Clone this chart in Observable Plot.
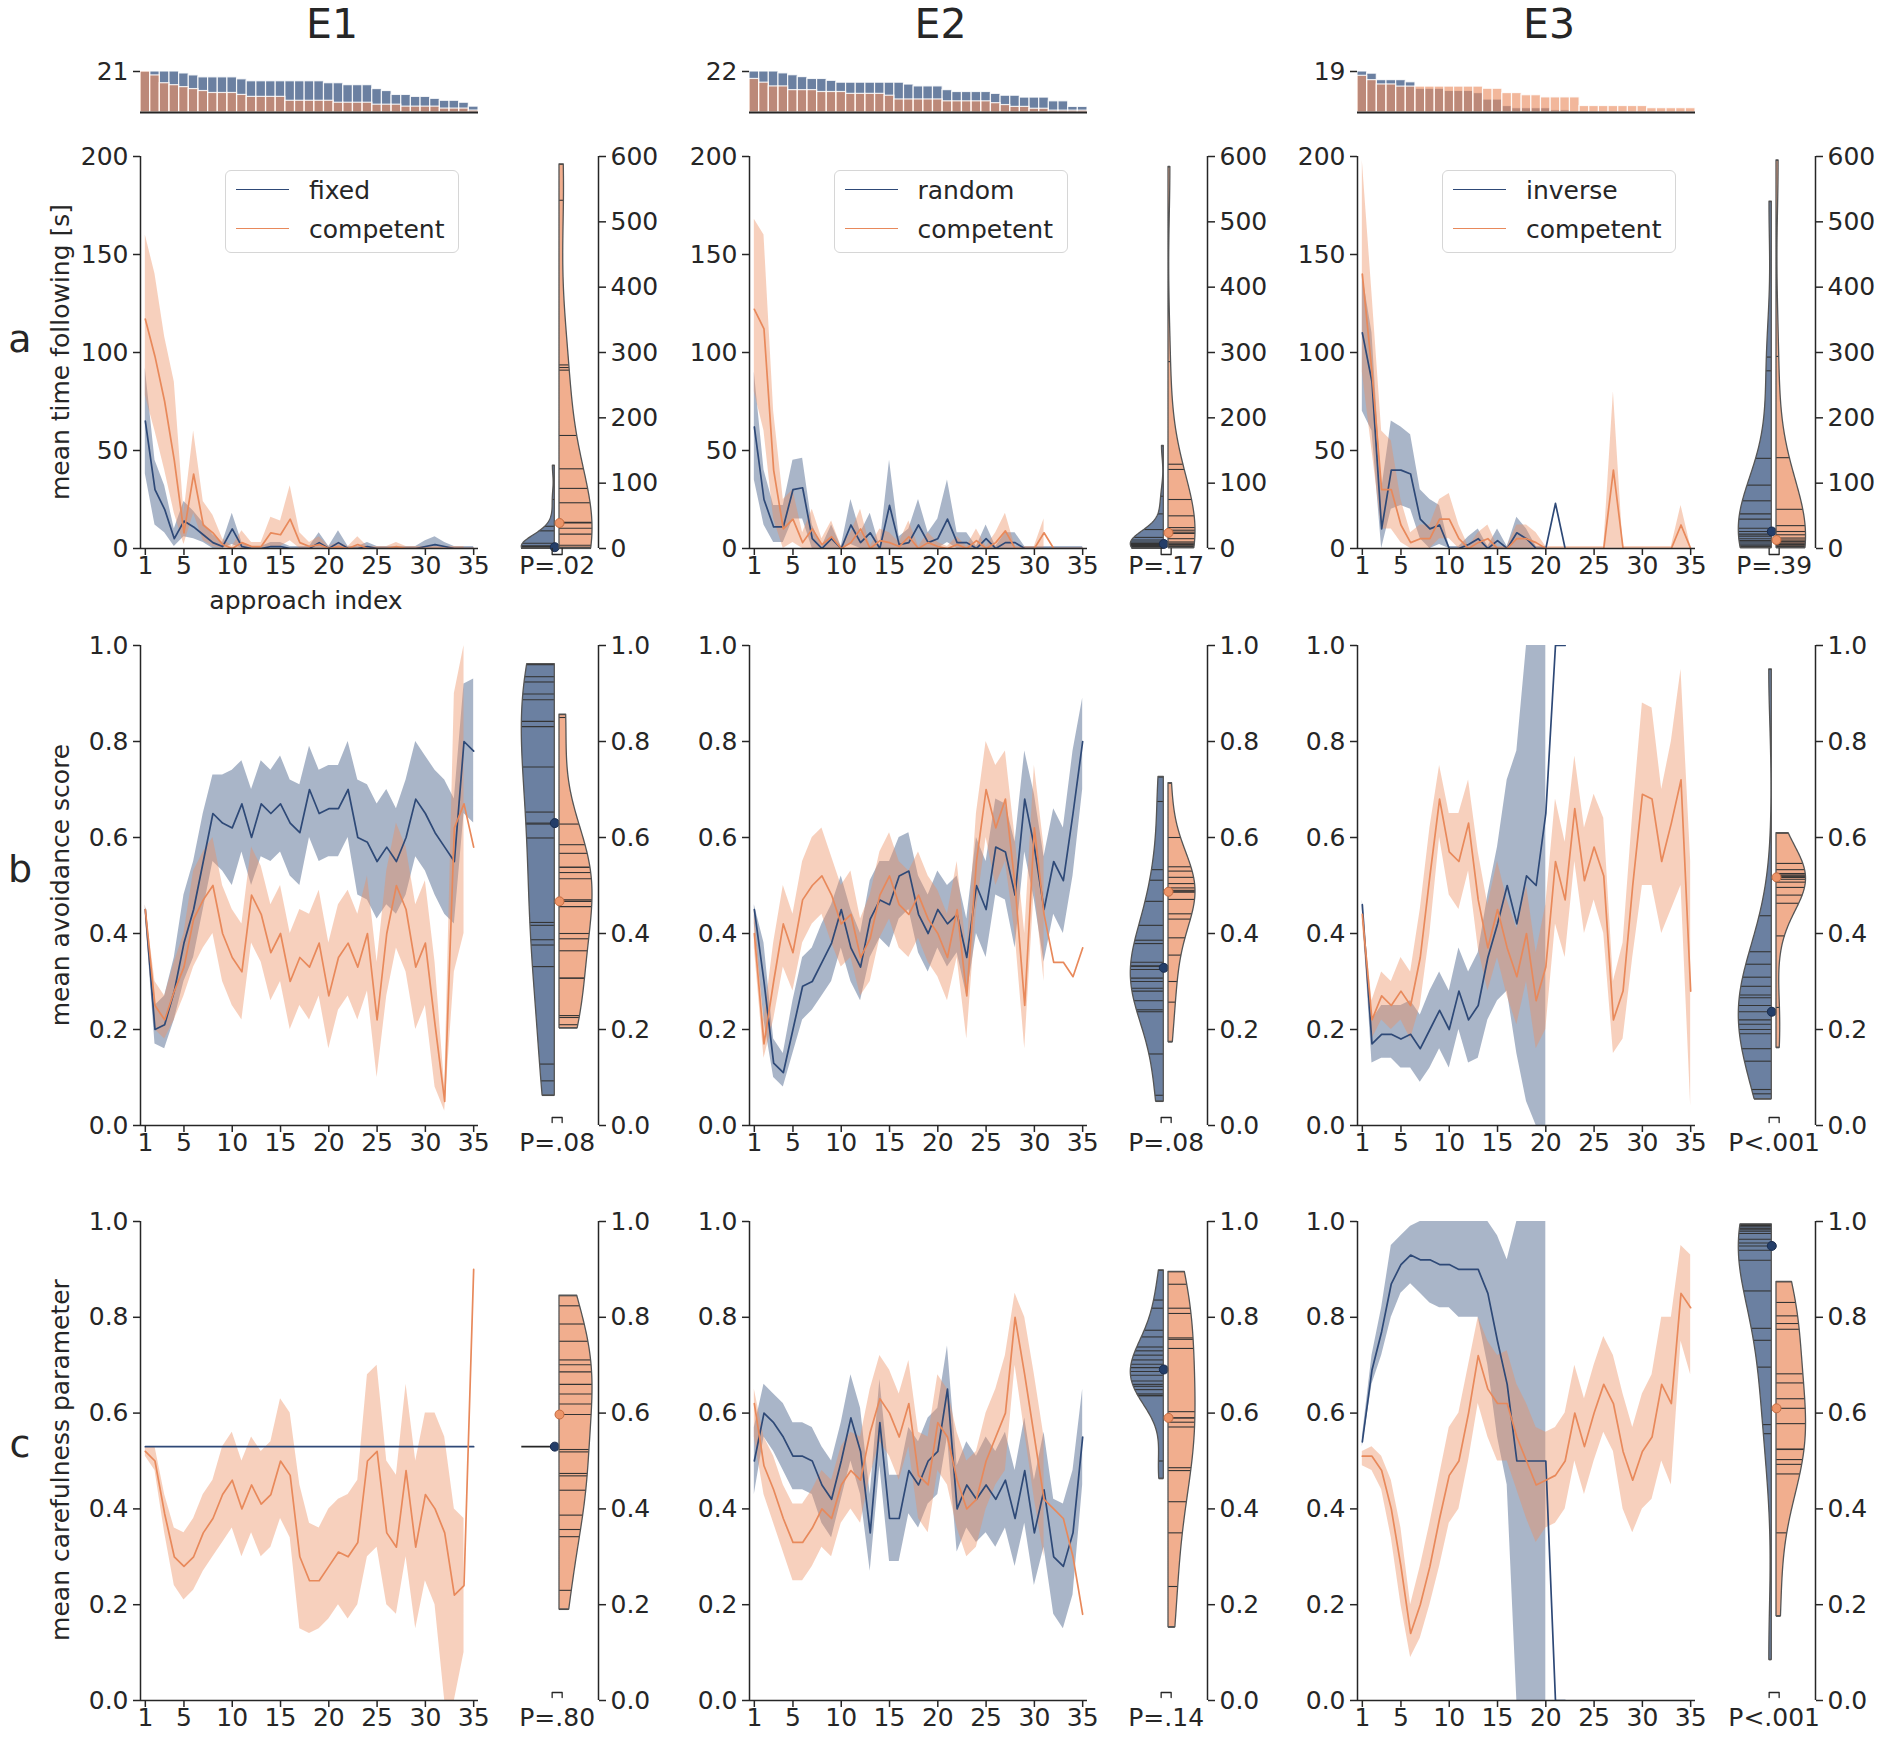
<!DOCTYPE html>
<html><head><meta charset="utf-8">
<script src="https://cdn.jsdelivr.net/npm/d3@7"></script>
<script src="https://cdn.jsdelivr.net/npm/@observablehq/plot@0.6"></script>
<style>
html,body{margin:0;padding:0;background:#fff;}
#root{position:relative;width:1880px;height:1742px;overflow:hidden;font-family:"DejaVu Sans",sans-serif;color:#262626;}
.t{position:absolute;white-space:nowrap;line-height:1;}
</style></head><body><div id="root"></div>
<script>
// ---------------- DATA ----------------
const approach = d3.range(1, 36);
const experiments = ["E1", "E2", "E3"];
const blueNames = ["fixed", "random", "inverse"];
const orangeName = "competent";
const rowLetters = ["a", "b", "c"];
const rowLabels = ["mean time following [s]", "mean avoidance score", "mean carefulness parameter"];
const xTicks = [1, 5, 10, 15, 20, 25, 30, 35];
const yTicksA = [0, 50, 100, 150, 200];
const yTicksViolinA = [0, 100, 200, 300, 400, 500, 600];
const yTicksBC = [0, 0.2, 0.4, 0.6, 0.8, 1.0];
const pLabels = [["P=.02", "P=.08", "P=.80"], ["P=.17", "P=.08", "P=.14"], ["P=.39", "P<.001", "P<.001"]];

// counts of participants per approach index (top histograms)
const E1_count_blue = [21,21,21,21,20,19,18,18,18,18,17,16,16,16,16,16,16,16,16,15,15,14,14,14,12,11,9,9,8,8,7,6,6,5,3];
const E1_count_orange = [21,19,15,14,13,12,11,10,10,10,9,8,8,8,8,6,6,6,6,6,5,5,5,5,4,4,4,3,3,3,3,2,2,2,1];
const E2_count_blue = [22,22,22,21,20,19,18,18,17,16,16,16,16,16,16,16,15,14,14,14,12,11,11,11,11,10,9,9,8,8,8,6,6,3,3];
const E2_count_orange = [18,16,14,14,12,12,12,11,11,11,10,10,10,10,9,7,7,7,7,7,6,6,6,6,6,5,4,3,3,2,2,1,1,1,1];
const E3_count_blue = [19,18,15,15,15,14,11,11,11,10,10,10,9,6,6,3,2,2,2,2,1,1,0,0,0,0,0,0,0,0,0,0,0,0,0];
const E3_count_orange = [17,15,13,13,12,12,12,12,12,12,12,12,12,11,11,9,9,8,8,7,7,7,7,3,3,3,3,3,3,3,2,2,2,2,2];

// row a: mean time following [s]
const E1a_blue_mean = [65,30,20,5,14,11,7,3,1,10,1,0,0,1,1,0,0,0,3,0,3,0,0,1,0,0,0,0,0,1,2,1,0,0,0];
const E1a_blue_lo = [38,12,8,1,6,5,3,0,0,2,0,0,0,0,0,0,0,0,0,0,0,0,0,0,0,0,0,0,0,0,0,0,0,0,0];
const E1a_blue_hi = [92,45,32,10,24,19,13,7,3,18,3,1,1,3,3,1,1,1,8,1,9,1,1,3,1,1,1,1,1,4,6,3,1,1,1];
const E1a_orange_mean = [117,98,75,45,8,38,12,8,2,0,3,1,1,8,7,15,3,1,2,0,1,0,2,0,0,0,1,0,0,0,0,0,0,0,0];
const E1a_orange_lo = [78,60,40,18,2,18,4,1,0,0,0,0,0,1,1,4,0,0,0,0,0,0,0,0,0,0,0,0,0,0,0,0,0,0,null];
const E1a_orange_hi = [160,140,108,85,18,60,24,17,5,1,9,3,3,16,14,32,8,3,6,1,3,1,6,1,1,1,3,1,1,1,1,1,1,1,null];

const E2a_blue_mean = [62,25,11,11,30,31,5,0,5,0,12,3,8,0,22,2,3,12,3,5,15,3,3,0,5,0,3,3,0,0,0,0,0,0,0];
const E2a_blue_lo = [35,12,3,3,15,15,0,0,0,0,2,0,0,0,0,0,0,0,0,0,3,0,0,0,0,0,0,0,0,0,0,0,0,0,0];
const E2a_blue_hi = [90,40,22,22,45,46,12,1,12,1,25,8,18,1,45,6,10,25,8,15,35,8,8,1,12,1,8,8,1,1,1,1,1,1,1];
const E2a_orange_mean = [122,112,40,10,15,3,10,2,6,0,3,10,0,4,3,1,6,0,3,1,0,2,0,4,0,3,9,0,0,0,8,0,0,0,0];
const E2a_orange_lo = [80,60,15,0,3,0,0,0,0,0,0,0,0,0,0,0,0,0,0,0,0,0,0,0,0,0,0,0,0,0,0,null,null,null,null];
const E2a_orange_hi = [168,160,70,25,30,8,20,5,14,1,8,20,1,10,8,3,14,1,8,3,1,6,1,10,1,8,18,1,1,1,15,null,null,null,null];

const E3a_blue_mean = [110,85,10,40,40,38,15,10,12,0,0,2,5,0,4,0,8,5,0,0,23,0,null,null,null,null,null,null,null,null,null,null,null,null,null];
const E3a_blue_lo = [70,60,0,20,22,20,5,0,2,0,0,0,0,0,0,0,0,0,0,0,null,null,null,null,null,null,null,null,null,null,null,null,null,null,null];
const E3a_blue_hi = [140,110,30,65,62,58,30,25,22,1,1,6,10,1,10,1,16,10,1,1,null,null,null,null,null,null,null,null,null,null,null,null,null,null,null];
const E3a_orange_mean = [140,90,30,30,12,3,5,5,15,15,5,0,3,5,0,0,5,5,3,0,0,0,0,0,0,0,40,0,0,0,0,0,0,12,0];
const E3a_orange_lo = [90,50,10,10,3,0,0,0,5,5,0,0,0,0,0,0,0,0,0,0,0,0,0,0,0,0,0,0,0,0,0,0,0,0,0];
const E3a_orange_hi = [198,130,60,55,25,8,12,12,25,28,12,1,8,12,1,1,12,12,8,1,1,1,1,1,1,1,80,1,1,1,1,1,1,22,1];

// row b: mean avoidance score
const E1b_blue_mean = [0.45,0.2,0.21,0.28,0.38,0.45,0.55,0.65,0.63,0.62,0.67,0.6,0.67,0.65,0.67,0.63,0.61,0.7,0.65,0.66,0.66,0.7,0.6,0.59,0.55,0.58,0.55,0.6,0.68,0.65,0.61,0.58,0.55,0.8,0.78];
const E1b_blue_lo = [0.44,0.17,0.16,0.22,0.3,0.35,0.45,0.55,0.53,0.5,0.57,0.5,0.56,0.55,0.57,0.52,0.5,0.6,0.55,0.56,0.56,0.6,0.48,0.47,0.43,0.46,0.44,0.48,0.56,0.53,0.48,0.44,0.42,0.65,0.63];
const E1b_blue_hi = [0.46,0.25,0.27,0.35,0.48,0.55,0.65,0.73,0.73,0.74,0.76,0.7,0.76,0.74,0.77,0.72,0.71,0.79,0.74,0.75,0.75,0.8,0.72,0.71,0.67,0.7,0.66,0.72,0.8,0.77,0.74,0.72,0.68,0.92,0.93];
const E1b_orange_mean = [0.45,0.25,0.22,0.28,0.33,0.43,0.47,0.5,0.4,0.35,0.32,0.48,0.44,0.36,0.4,0.3,0.35,0.33,0.38,0.27,0.35,0.38,0.33,0.4,0.22,0.4,0.5,0.45,0.33,0.38,0.21,0.05,0.62,0.67,0.58];
const E1b_orange_lo = [0.43,0.2,0.18,0.22,0.27,0.33,0.37,0.4,0.3,0.25,0.22,0.38,0.34,0.26,0.3,0.2,0.25,0.22,0.27,0.16,0.24,0.27,0.22,0.28,0.1,0.27,0.37,0.32,0.2,0.25,0.08,0.03,0.32,0.4,null];
const E1b_orange_hi = [0.46,0.3,0.27,0.34,0.4,0.53,0.57,0.6,0.5,0.45,0.42,0.58,0.54,0.46,0.5,0.4,0.45,0.44,0.49,0.38,0.46,0.49,0.44,0.52,0.34,0.53,0.63,0.58,0.46,0.51,0.34,0.08,0.9,1.0,null];

const E2b_blue_mean = [0.45,0.3,0.13,0.11,0.2,0.29,0.3,0.34,0.38,0.45,0.37,0.33,0.43,0.47,0.46,0.52,0.53,0.44,0.4,0.45,0.42,0.44,0.35,0.5,0.45,0.58,0.57,0.48,0.68,0.58,0.45,0.55,0.51,0.65,0.8];
const E2b_blue_lo = [0.42,0.22,0.1,0.08,0.15,0.22,0.24,0.27,0.3,0.37,0.3,0.26,0.35,0.39,0.37,0.43,0.45,0.36,0.32,0.37,0.33,0.36,0.27,0.4,0.35,0.48,0.47,0.37,0.57,0.47,0.34,0.44,0.4,0.52,0.7];
const E2b_blue_hi = [0.46,0.38,0.18,0.15,0.26,0.35,0.37,0.42,0.46,0.52,0.45,0.4,0.51,0.55,0.55,0.6,0.61,0.52,0.48,0.53,0.5,0.52,0.43,0.6,0.55,0.68,0.67,0.59,0.78,0.69,0.56,0.66,0.62,0.78,0.89];
const E2b_orange_mean = [0.4,0.17,0.3,0.42,0.36,0.47,0.5,0.52,0.48,0.42,0.44,0.35,0.39,0.48,0.52,0.46,0.44,0.48,0.43,0.4,0.35,0.45,0.27,0.55,0.7,0.62,0.68,0.5,0.25,0.62,0.44,0.34,0.34,0.31,0.37];
const E2b_orange_lo = [0.37,0.14,0.22,0.33,0.28,0.38,0.42,0.44,0.38,0.33,0.35,0.27,0.3,0.39,0.43,0.37,0.35,0.39,0.34,0.31,0.26,0.35,0.18,0.45,0.6,0.5,0.55,0.4,0.16,0.5,0.3,null,null,null,null];
const E2b_orange_hi = [0.45,0.22,0.38,0.5,0.44,0.55,0.6,0.62,0.56,0.5,0.53,0.43,0.48,0.57,0.61,0.55,0.53,0.57,0.52,0.49,0.44,0.55,0.36,0.65,0.8,0.75,0.78,0.6,0.4,0.75,0.58,null,null,null,null];

const E3b_blue_mean = [0.46,0.17,0.19,0.19,0.18,0.19,0.16,0.2,0.24,0.2,0.28,0.22,0.25,0.35,0.42,0.5,0.42,0.52,0.5,0.65,1.0,1.0,null,null,null,null,null,null,null,null,null,null,null,null,null];
const E3b_blue_lo = [0.45,0.13,0.14,0.14,0.12,0.12,0.09,0.12,0.16,0.12,0.2,0.13,0.14,0.22,0.26,0.28,0.15,0.05,0.0,0.0,null,null,null,null,null,null,null,null,null,null,null,null,null,null,null];
const E3b_blue_hi = [0.47,0.22,0.25,0.25,0.25,0.26,0.23,0.28,0.32,0.28,0.37,0.32,0.36,0.48,0.58,0.72,0.78,1.0,1.0,1.0,null,null,null,null,null,null,null,null,null,null,null,null,null,null,null];
const E3b_orange_mean = [0.44,0.22,0.27,0.25,0.28,0.25,0.35,0.52,0.68,0.57,0.55,0.63,0.47,0.37,0.45,0.37,0.31,0.4,0.26,0.33,0.55,0.47,0.66,0.51,0.58,0.52,0.22,0.28,0.5,0.69,0.68,0.55,0.63,0.72,0.28];
const E3b_orange_lo = [0.42,0.18,0.22,0.2,0.22,0.18,0.25,0.4,0.6,0.48,0.45,0.53,0.37,0.28,0.35,0.27,0.21,0.3,0.16,0.2,0.42,0.35,0.55,0.4,0.47,0.4,0.15,0.18,0.35,0.5,0.5,0.4,0.45,0.5,0.04];
const E3b_orange_hi = [0.46,0.26,0.32,0.3,0.35,0.32,0.45,0.62,0.75,0.65,0.65,0.72,0.57,0.46,0.55,0.47,0.41,0.5,0.36,0.46,0.68,0.59,0.77,0.62,0.69,0.64,0.3,0.38,0.65,0.88,0.87,0.7,0.8,0.95,0.55];

// row c: mean carefulness parameter
const E1c_blue_mean = [0.53,0.53,0.53,0.53,0.53,0.53,0.53,0.53,0.53,0.53,0.53,0.53,0.53,0.53,0.53,0.53,0.53,0.53,0.53,0.53,0.53,0.53,0.53,0.53,0.53,0.53,0.53,0.53,0.53,0.53,0.53,0.53,0.53,0.53,0.53];
const E1c_orange_mean = [0.52,0.5,0.39,0.3,0.28,0.3,0.35,0.38,0.43,0.46,0.4,0.45,0.41,0.43,0.5,0.47,0.3,0.25,0.25,0.28,0.31,0.3,0.33,0.5,0.52,0.35,0.32,0.48,0.32,0.43,0.4,0.35,0.22,0.24,0.9];
const E1c_orange_lo = [0.51,0.48,0.35,0.24,0.21,0.23,0.27,0.3,0.33,0.36,0.3,0.35,0.3,0.32,0.38,0.34,0.15,0.14,0.15,0.17,0.2,0.17,0.2,0.3,0.32,0.2,0.18,0.3,0.15,0.25,0.2,0.0,0.0,0.1,null];
const E1c_orange_hi = [0.53,0.53,0.43,0.36,0.35,0.38,0.43,0.46,0.53,0.56,0.5,0.55,0.52,0.54,0.63,0.6,0.45,0.37,0.36,0.4,0.42,0.43,0.46,0.68,0.7,0.5,0.47,0.66,0.5,0.6,0.6,0.55,0.4,0.38,null];

const E2c_blue_mean = [0.5,0.6,0.58,0.55,0.51,0.51,0.5,0.45,0.42,0.5,0.59,0.52,0.35,0.58,0.38,0.38,0.48,0.45,0.5,0.52,0.65,0.4,0.45,0.42,0.45,0.42,0.46,0.38,0.48,0.35,0.44,0.3,0.28,0.35,0.55];
const E2c_blue_lo = [0.43,0.55,0.52,0.48,0.44,0.44,0.43,0.37,0.34,0.42,0.5,0.43,0.27,0.49,0.29,0.29,0.39,0.36,0.41,0.43,0.55,0.31,0.36,0.33,0.35,0.32,0.36,0.28,0.37,0.24,0.32,0.18,0.15,0.22,0.45];
const E2c_blue_hi = [0.57,0.66,0.64,0.62,0.58,0.58,0.57,0.53,0.5,0.58,0.68,0.61,0.43,0.67,0.47,0.47,0.57,0.54,0.59,0.61,0.74,0.49,0.54,0.51,0.55,0.52,0.56,0.48,0.59,0.46,0.56,0.42,0.41,0.48,0.65];
const E2c_orange_mean = [0.62,0.49,0.44,0.38,0.33,0.33,0.36,0.4,0.38,0.45,0.48,0.46,0.56,0.63,0.6,0.55,0.62,0.47,0.45,0.58,0.55,0.46,0.4,0.42,0.5,0.55,0.6,0.8,0.68,0.55,0.42,0.4,0.38,0.3,0.18];
const E2c_orange_lo = [0.55,0.43,0.37,0.31,0.25,0.25,0.28,0.32,0.3,0.37,0.4,0.37,0.47,0.54,0.51,0.46,0.53,0.38,0.35,0.48,0.45,0.36,0.3,0.32,0.4,0.45,0.48,0.7,0.56,0.42,0.3,null,null,null,null];
const E2c_orange_hi = [0.65,0.55,0.51,0.45,0.41,0.41,0.44,0.48,0.46,0.53,0.56,0.55,0.65,0.72,0.69,0.64,0.71,0.56,0.55,0.68,0.65,0.56,0.5,0.52,0.6,0.65,0.72,0.85,0.8,0.68,0.55,null,null,null,null];

const E3c_blue_mean = [0.54,0.69,0.77,0.87,0.91,0.93,0.92,0.92,0.91,0.91,0.9,0.9,0.9,0.85,0.75,0.66,0.5,0.5,0.5,0.5,0.0,0.0,null,null,null,null,null,null,null,null,null,null,null,null,null];
const E3c_blue_lo = [0.53,0.66,0.72,0.8,0.85,0.87,0.85,0.83,0.82,0.82,0.8,0.8,0.8,0.7,0.55,0.45,0.0,0.0,0.0,0.0,null,null,null,null,null,null,null,null,null,null,null,null,null,null,null];
const E3c_blue_hi = [0.55,0.72,0.82,0.95,0.97,0.99,1.0,1.0,1.0,1.0,1.0,1.0,1.0,1.0,0.97,0.92,1.0,1.0,1.0,1.0,null,null,null,null,null,null,null,null,null,null,null,null,null,null,null];
const E3c_orange_mean = [0.51,0.51,0.48,0.4,0.28,0.14,0.2,0.28,0.38,0.47,0.5,0.6,0.72,0.65,0.62,0.62,0.55,0.5,0.45,0.46,0.47,0.5,0.6,0.53,0.6,0.66,0.62,0.52,0.46,0.52,0.55,0.66,0.62,0.85,0.82];
const E3c_orange_lo = [0.49,0.48,0.44,0.34,0.2,0.09,0.13,0.2,0.28,0.37,0.4,0.5,0.62,0.55,0.5,0.5,0.44,0.38,0.33,0.36,0.37,0.4,0.5,0.43,0.5,0.56,0.52,0.4,0.35,0.4,0.42,0.5,0.45,0.75,0.68];
const E3c_orange_hi = [0.52,0.53,0.51,0.46,0.36,0.2,0.28,0.37,0.47,0.57,0.6,0.7,0.8,0.75,0.72,0.73,0.66,0.62,0.57,0.56,0.57,0.6,0.7,0.63,0.7,0.76,0.72,0.64,0.57,0.64,0.68,0.8,0.8,0.95,0.93];

// per-participant values (violins)
const E1a_blue_part = [127,75,34,27,8,4,3,3,2,2,2,1.5,1,1,0.5,0.5,0.3,0.2,0,0,0];
const E1a_orange_part = [588,533,281,277,273,173,122,92,70,40,39,31,22,5,2,1,1,0.5,0.5,0,0];
const E1b_blue_part = [0.961,0.96,0.935,0.924,0.899,0.887,0.842,0.831,0.747,0.653,0.63,0.628,0.599,0.423,0.417,0.387,0.376,0.331,0.128,0.093,0.0625];
const E1b_orange_part = [0.856,0.85,0.628,0.585,0.567,0.538,0.538,0.527,0.514,0.47,0.467,0.456,0.4,0.389,0.364,0.307,0.307,0.229,0.225,0.21,0.203];
const E1c_blue_part = [0.53,0.53,0.53,0.53,0.53,0.53,0.53,0.53,0.53,0.53,0.53,0.53,0.53,0.53,0.53,0.53,0.53,0.53,0.53,0.53,0.53];
const E1c_orange_part = [0.845,0.824,0.786,0.75,0.711,0.701,0.686,0.66,0.64,0.619,0.597,0.524,0.519,0.474,0.469,0.439,0.387,0.357,0.342,0.23,0.19];
const E2a_blue_part = [157,80,53,29,17,13,10,8,7.5,7,7,7,6,5,5,4,3,2,2,1,1,0];
const E2a_orange_part = [584,286,129,121,75,50,32,28,25,23,15,10,8,6,5,3,2,1];
const E2b_blue_part = [0.726,0.675,0.533,0.511,0.467,0.417,0.386,0.379,0.34,0.332,0.332,0.325,0.307,0.3,0.286,0.28,0.26,0.241,0.237,0.149,0.063,0.05];
const E2b_orange_part = [0.713,0.6,0.539,0.53,0.517,0.504,0.495,0.49,0.488,0.486,0.471,0.441,0.43,0.391,0.355,0.3,0.257,0.174];
const E2c_blue_part = [0.898,0.836,0.819,0.773,0.759,0.738,0.73,0.721,0.711,0.702,0.695,0.687,0.679,0.667,0.66,0.656,0.649,0.64,0.637,0.636,0.5,0.463];
const E2c_orange_part = [0.895,0.869,0.819,0.808,0.757,0.754,0.735,0.603,0.59,0.59,0.581,0.571,0.486,0.48,0.415,0.35,0.238,0.153];
const E3a_blue_part = [531,293,272,138,97,73,53,45,31,26,22,19,15,12,10,7,5,3,1];
const E3a_orange_part = [594,294,139,60,35,26,21,16,13,11,10,8,6,5,3,2,1];
const E3b_blue_part = [0.95,0.437,0.362,0.336,0.309,0.29,0.272,0.266,0.25,0.237,0.22,0.211,0.2,0.191,0.16,0.134,0.075,0.066,0.055];
const E3b_orange_part = [0.609,0.546,0.533,0.525,0.522,0.52,0.518,0.517,0.517,0.513,0.507,0.496,0.48,0.463,0.395,0.246,0.162];
const E3c_blue_part = [0.994,0.992,0.989,0.986,0.984,0.98,0.975,0.963,0.955,0.949,0.94,0.919,0.855,0.777,0.752,0.696,0.576,0.557,0.085];
const E3c_orange_part = [0.874,0.831,0.803,0.787,0.775,0.682,0.663,0.63,0.61,0.578,0.525,0.524,0.503,0.493,0.473,0.35,0.176];

// ---------------- LAYOUT / STYLE ----------------
const root = document.getElementById("root");
const INK = "#262626";
const BLUE = "#324f7d", ORANGE = "#eb8f62";
const BLUE_LINE = "#2e4977", ORANGE_LINE = "#e8895b";
const FS = 25;
const FONT = "DejaVu Sans, sans-serif";
const COLX = [0, 608.5, 1217];
const ROWY = [[156, 548], [645, 1125], [1221, 1700]];
const num = v => (v == null ? NaN : v);
const svgStyle = {fontFamily: FONT, fontSize: FS + "px", color: INK, background: "transparent", overflow: "visible"};

function put(el, left, top) {
  el.style.position = "absolute";
  el.style.left = left + "px";
  el.style.top = top + "px";
  root.appendChild(el);
}
function text(str, x, y, size, extra) {
  const d = document.createElement("div");
  d.className = "t";
  d.textContent = str;
  d.style.left = x + "px";
  d.style.top = y + "px";
  d.style.fontSize = size + "px";
  d.style.transform = "translate(-50%,-50%)" + (extra || "");
  root.appendChild(d);
}

function mainPanel(col, row, blue, orange) {
  const fx0 = 140 + COLX[col], fx1 = 478 + COLX[col];
  const [fy0, fy1] = ROWY[row];
  const mL = 90, mR = 20, mT = 20, mB = 50;
  const yDom = row === 0 ? [0, 200] : [0, 1];
  const yTicks = row === 0 ? yTicksA : yTicksBC;
  const fmt = row === 0 ? d => String(d) : d => d.toFixed(1);
  const mk = s => approach.map((x, i) => ({x, m: num(s.mean[i]), lo: s.lo ? num(s.lo[i]) : NaN, hi: s.hi ? num(s.hi[i]) : NaN}));
  const series = [{d: mk(blue), c: BLUE, l: BLUE_LINE}, {d: mk(orange), c: ORANGE, l: ORANGE_LINE}];
  const marks = [];
  for (const s of series) marks.push(Plot.areaY(s.d, {x: "x", y1: "lo", y2: "hi", fill: s.c, fillOpacity: 0.42, clip: true}));
  for (const s of series) marks.push(Plot.lineY(s.d, {x: "x", y: "m", stroke: s.l, strokeWidth: 1.7, clip: true}));
  marks.push(Plot.ruleX([0.5], {stroke: INK, strokeWidth: 1.5}));
  marks.push(Plot.ruleY([yDom[0]], {stroke: INK, strokeWidth: 1.5}));
  marks.push(Plot.axisY({ticks: yTicks, tickFormat: fmt, tickSize: 7, tickPadding: 5, fontSize: FS, label: null, strokeWidth: 1.5}));
  marks.push(Plot.axisX({ticks: xTicks, tickSize: 7, tickPadding: 1, fontSize: FS, label: null, strokeWidth: 1.5}));
  const svg = Plot.plot({
    width: fx1 - fx0 + mL + mR, height: fy1 - fy0 + mT + mB,
    marginLeft: mL, marginRight: mR, marginTop: mT, marginBottom: mB,
    x: {domain: [0.5, 35.5]}, y: {domain: yDom},
    style: svgStyle, marks
  });
  put(svg, fx0 - mL, fy0 - mT);
}

function kde(values, nGrid = 160) {
  const n = values.length;
  const sd = d3.deviation(values);
  if (!(sd > 0)) return null;
  const bw = sd * Math.pow(n, -0.2);
  const lo = d3.min(values), hi = d3.max(values);
  const f = y => d3.sum(values, v => Math.exp(-0.5 * ((y - v) / bw) ** 2));
  const grid = d3.range(nGrid + 1).map(i => lo + (hi - lo) * i / nGrid);
  const fmax = d3.max(grid, f);
  return {grid, f, fmax};
}

function violinPanel(col, row, bVals, oVals, pText) {
  const cx = 556.65 + COLX[col];
  const fx0 = 505 + COLX[col], fx1 = 598 + COLX[col];
  const [fy0, fy1] = ROWY[row];
  const mL = 10, mR = 80, mT = 20, mB = 50;
  const yDom = row === 0 ? [0, 600] : [0, 1];
  const yTicks = row === 0 ? yTicksViolinA : yTicksBC;
  const fmt = row === 0 ? d => String(d) : d => d.toFixed(1);
  const G = 2.35, WMAX = 33;
  const nMax = Math.max(bVals.length, oVals.length);
  const halves = [
    {v: bVals, side: -1, fill: BLUE, dot: "#243e69", dotStroke: "#1a2d4f"},
    {v: oVals, side: 1, fill: ORANGE, dot: "#ec9468", dotStroke: "#c56b40"}
  ];
  const marks = [];
  for (const h of halves) {
    const wmax = WMAX * h.v.length / nMax;
    const edge = h.side * G;
    const k = kde(h.v);
    if (k) {
      const wid = y => k.f(y) / k.fmax * wmax;
      const grid = k.grid.map(y => ({y, w: wid(y)}));
      marks.push(Plot.areaX(grid, {y: "y", x1: edge, x2: d => edge + h.side * d.w, fill: h.fill, fillOpacity: 0.72}));
      marks.push(Plot.ruleY(h.v, {y: d => d, x1: edge, x2: d => edge + h.side * wid(d), stroke: "#343434", strokeWidth: 1.1}));
      marks.push(Plot.areaX(grid, {y: "y", x1: edge, x2: d => edge + h.side * d.w, fill: "none", stroke: "#555", strokeWidth: 1.3}));
    } else {
      marks.push(Plot.ruleY([h.v[0]], {x1: edge, x2: edge + h.side * wmax, stroke: INK, strokeWidth: 1.6}));
    }
    marks.push(Plot.dot([d3.median(h.v)], {x: edge, y: d => d, r: 4.5, fill: h.dot, stroke: h.dotStroke, strokeWidth: 1}));
  }
  const pxu = (yDom[1] - yDom[0]) / (fy1 - fy0);
  const br = row === 0
    ? [[-5, 0], [-5, -6 * pxu], [5, -6 * pxu], [5, 0]]
    : [[-5, 3 * pxu], [-5, 8 * pxu], [5, 8 * pxu], [5, 3 * pxu]];
  marks.push(Plot.line(br, {x: d => d[0], y: d => d[1], stroke: INK, strokeWidth: 1.3}));
  marks.push(Plot.text([pText], {x: 0, y: yDom[0], text: d => d, lineAnchor: "top", dy: 8, fontSize: FS, fill: INK}));
  marks.push(Plot.ruleX([fx1 - cx], {stroke: INK, strokeWidth: 1.5}));
  marks.push(Plot.axisY({anchor: "right", ticks: yTicks, tickFormat: fmt, tickSize: 7, tickPadding: 5, fontSize: FS, label: null, strokeWidth: 1.5}));
  const svg = Plot.plot({
    width: fx1 - fx0 + mL + mR, height: fy1 - fy0 + mT + mB,
    marginLeft: mL, marginRight: mR, marginTop: mT, marginBottom: mB,
    x: {domain: [fx0 - cx, fx1 - cx], axis: null}, y: {domain: yDom},
    style: svgStyle, marks
  });
  put(svg, fx0 - mL, fy0 - mT);
}

function histPanel(col, bCounts, oCounts) {
  const fx0 = 140 + COLX[col], fx1 = 478 + COLX[col], fy0 = 71, fy1 = 112;
  const mL = 70, mR = 10, mT = 20, mB = 10;
  const top = d3.max(bCounts.concat(oCounts));
  const mk = arr => approach.map((x, i) => ({x, n: arr[i]})).filter(d => d.n > 0);
  const marks = [
    Plot.rectY(mk(bCounts), {x1: d => d.x - 0.5, x2: d => d.x + 0.5, y1: 0, y2: "n", fill: BLUE, fillOpacity: 0.72, stroke: "#fff", strokeWidth: 1.2, strokeOpacity: 0.85}),
    Plot.rectY(mk(oCounts), {x1: d => d.x - 0.5, x2: d => d.x + 0.5, y1: 0, y2: "n", fill: ORANGE, fillOpacity: 0.64, stroke: "#fff", strokeWidth: 1.2, strokeOpacity: 0.85}),
    Plot.ruleY([0], {stroke: INK, strokeWidth: 2}),
    Plot.axisY({ticks: [top], tickSize: 7, tickPadding: 5, fontSize: FS, label: null, strokeWidth: 1.5})
  ];
  const svg = Plot.plot({
    width: fx1 - fx0 + mL + mR, height: fy1 - fy0 + mT + mB,
    marginLeft: mL, marginRight: mR, marginTop: mT, marginBottom: mB,
    x: {domain: [0.5, 35.5], axis: null}, y: {domain: [0, top]},
    style: svgStyle, marks
  });
  put(svg, fx0 - mL, fy0 - mT);
}

function legend(col, blueName) {
  const L = 225 + COLX[col], T = 170;
  const box = document.createElement("div");
  box.style.cssText = `position:absolute;left:${L}px;top:${T}px;width:234px;height:83px;border:1px solid #d6d6d6;border-radius:6px;background:rgba(255,255,255,0.8);box-sizing:border-box;`;
  root.appendChild(box);
  const entries = [[blueName, BLUE_LINE, 19], [orangeName, ORANGE_LINE, 58]];
  for (const [lab, c, y] of entries) {
    const ln = document.createElement("div");
    ln.style.cssText = `position:absolute;left:10px;top:${y - 1}px;width:53px;height:0;border-top:1.7px solid ${c};`;
    box.appendChild(ln);
    const t = document.createElement("div");
    t.className = "t";
    t.textContent = lab;
    t.style.cssText += `left:83px;top:${y}px;font-size:${FS}px;transform:translateY(-50%);`;
    box.appendChild(t);
  }
}

// ---------------- DRAW ----------------
const counts = [[E1_count_blue, E1_count_orange], [E2_count_blue, E2_count_orange], [E3_count_blue, E3_count_orange]];
const lines = [
  [[{mean: E1a_blue_mean, lo: E1a_blue_lo, hi: E1a_blue_hi}, {mean: E1a_orange_mean, lo: E1a_orange_lo, hi: E1a_orange_hi}],
   [{mean: E1b_blue_mean, lo: E1b_blue_lo, hi: E1b_blue_hi}, {mean: E1b_orange_mean, lo: E1b_orange_lo, hi: E1b_orange_hi}],
   [{mean: E1c_blue_mean}, {mean: E1c_orange_mean, lo: E1c_orange_lo, hi: E1c_orange_hi}]],
  [[{mean: E2a_blue_mean, lo: E2a_blue_lo, hi: E2a_blue_hi}, {mean: E2a_orange_mean, lo: E2a_orange_lo, hi: E2a_orange_hi}],
   [{mean: E2b_blue_mean, lo: E2b_blue_lo, hi: E2b_blue_hi}, {mean: E2b_orange_mean, lo: E2b_orange_lo, hi: E2b_orange_hi}],
   [{mean: E2c_blue_mean, lo: E2c_blue_lo, hi: E2c_blue_hi}, {mean: E2c_orange_mean, lo: E2c_orange_lo, hi: E2c_orange_hi}]],
  [[{mean: E3a_blue_mean, lo: E3a_blue_lo, hi: E3a_blue_hi}, {mean: E3a_orange_mean, lo: E3a_orange_lo, hi: E3a_orange_hi}],
   [{mean: E3b_blue_mean, lo: E3b_blue_lo, hi: E3b_blue_hi}, {mean: E3b_orange_mean, lo: E3b_orange_lo, hi: E3b_orange_hi}],
   [{mean: E3c_blue_mean, lo: E3c_blue_lo, hi: E3c_blue_hi}, {mean: E3c_orange_mean, lo: E3c_orange_lo, hi: E3c_orange_hi}]]
];
const parts = [
  [[E1a_blue_part, E1a_orange_part], [E1b_blue_part, E1b_orange_part], [E1c_blue_part, E1c_orange_part]],
  [[E2a_blue_part, E2a_orange_part], [E2b_blue_part, E2b_orange_part], [E2c_blue_part, E2c_orange_part]],
  [[E3a_blue_part, E3a_orange_part], [E3b_blue_part, E3b_orange_part], [E3c_blue_part, E3c_orange_part]]
];

for (let c = 0; c < 3; c++) {
  histPanel(c, counts[c][0], counts[c][1]);
  for (let r = 0; r < 3; r++) {
    mainPanel(c, r, lines[c][r][0], lines[c][r][1]);
    violinPanel(c, r, parts[c][r][0], parts[c][r][1], pLabels[c][r]);
  }
  legend(c, blueNames[c]);
  text(experiments[c], 332 + COLX[c], 24, 41);
}
const rowCenters = [352, 885, 1460];
for (let r = 0; r < 3; r++) {
  text(rowLetters[r], 20, [339, 869, 1444][r], 38);
  text(rowLabels[r], 60, rowCenters[r], FS, " rotate(-90deg)");
}
text("approach index", 306, 600, FS);
</script></body></html>
